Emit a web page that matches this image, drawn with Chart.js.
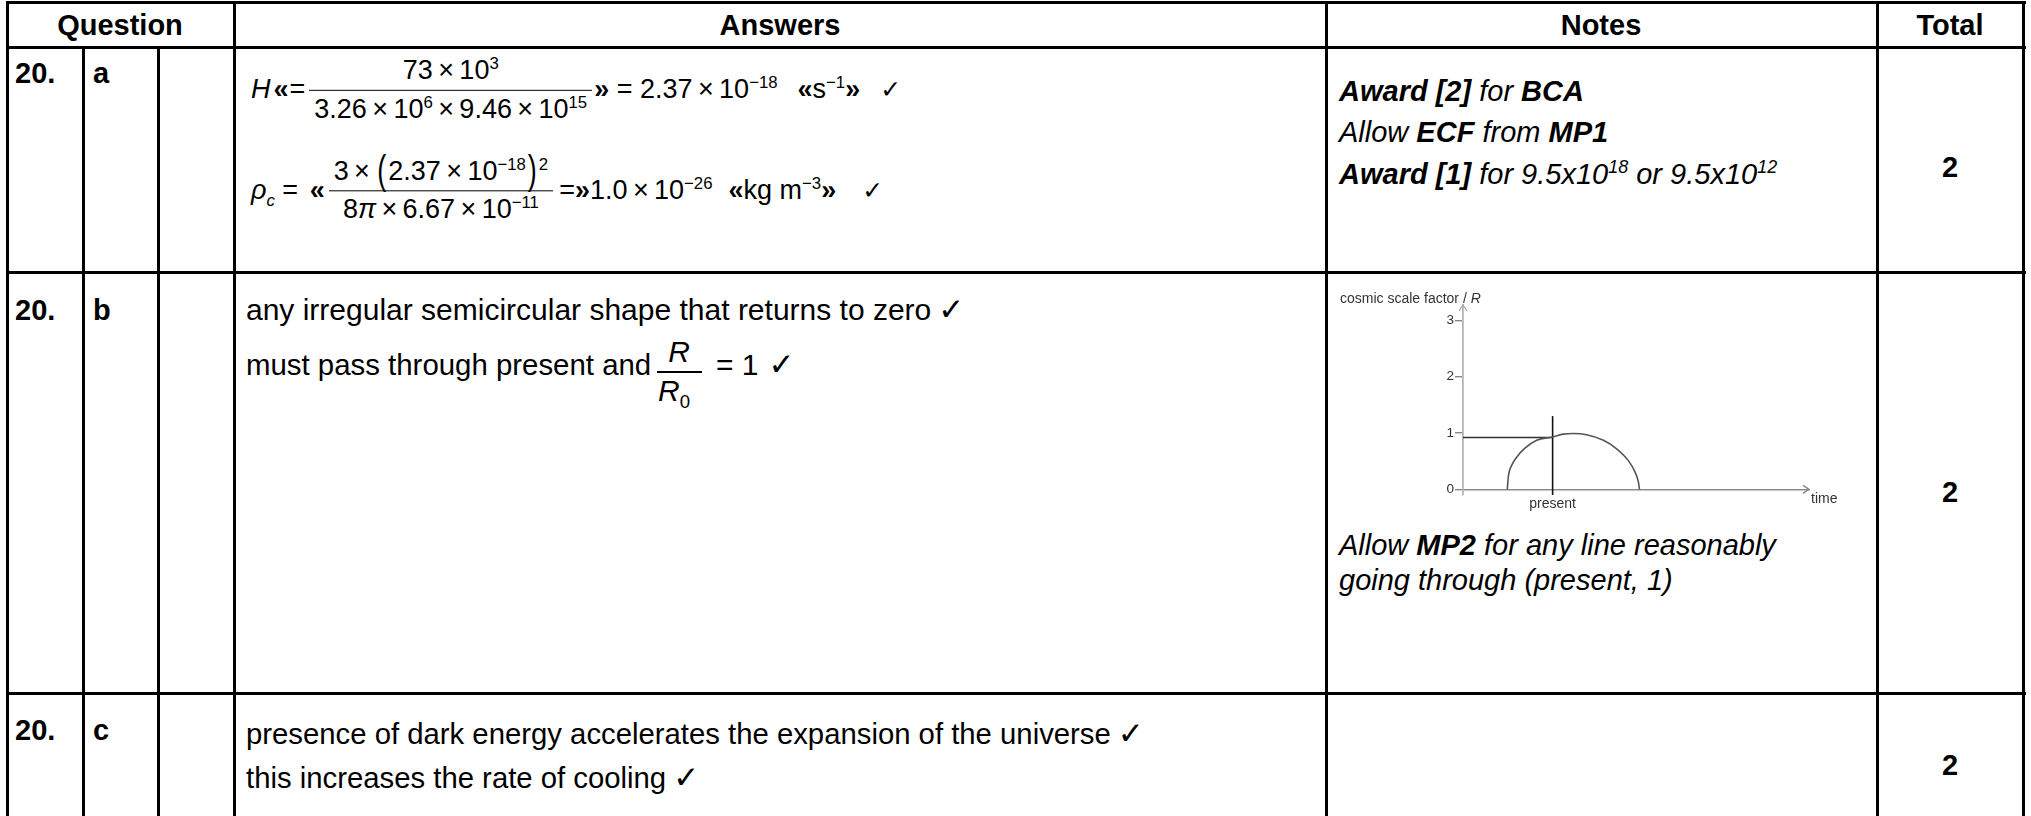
<!DOCTYPE html>
<html>
<head>
<meta charset="utf-8">
<script src="https://cdn.jsdelivr.net/npm/chart.js@4"></script>
<style>
    body { margin: 0; width: 2031px; height: 816px; overflow: hidden; position: relative; background: #fff; color: #000; font-family: "Liberation Sans", Arial, sans-serif; }
    .h, .v { position: absolute; background: #000; }
    .h { height: 3px; left: 6px; width: 2020px; }
    .v { width: 3px; }
    .t { position: absolute; font-size: 29px; line-height: 1; white-space: nowrap; transform: translateY(-50%); }
    .c { transform: translate(-50%, -50%); }
    .b { font-weight: bold; }
    .i { font-style: italic; }
    sup, sub { font-size: 62%; line-height: 0; }
    .ck { font-family: "DejaVu Sans", sans-serif; font-size: 31px; line-height: 0; margin-left: 7px; }
    .fl { position: absolute; height: 1.6px; background: #000; }

    /* formulas */
    .eq { position: absolute; display: flex; align-items: center; font-size: 27px; line-height: 1.1; white-space: nowrap; transform: translateY(-50%); }
    .eq q { quotes: none; font-weight: bold; }
    .fr { display: flex; flex-direction: column; align-items: center; margin: 0 2px 0 4px; }
    .nu { align-self: stretch; text-align: center; padding: 0 5px 4px; border-bottom: 1.6px solid #000; }
    .de { padding: 4px 5px 0; }
    .x { margin: 0 0.2em; }
    .big { display: inline-block; transform: scaleY(1.5); margin: 0 2px; }
    .gap { display: inline-block; width: 20px; }
    .eq .ck { font-size: 25px; margin-left: 0; }
    #chartBox { position: absolute; left: 1330px; top: 280px; }
</style>
</head>
<body>

<!-- table rules -->
<div class="h" style="top:1px"></div>
<div class="h" style="top:46px"></div>
<div class="h" style="top:271px"></div>
<div class="h" style="top:692px"></div>
<div class="v" style="left:6px;top:1px;height:815px"></div>
<div class="v" style="left:82px;top:46px;height:770px"></div>
<div class="v" style="left:157px;top:46px;height:770px"></div>
<div class="v" style="left:233px;top:1px;height:815px"></div>
<div class="v" style="left:1325px;top:1px;height:815px"></div>
<div class="v" style="left:1876px;top:1px;height:815px"></div>
<div class="v" style="left:2022px;top:1px;height:815px"></div>

<!-- header -->
<div class="t b c" style="left:120px;top:25px">Question</div>
<div class="t b c" style="left:780px;top:25px">Answers</div>
<div class="t b c" style="left:1601px;top:25px">Notes</div>
<div class="t b c" style="left:1950px;top:25px">Total</div>

<!-- 20 a -->
<div class="t b" style="left:15px;top:73px">20.</div>
<div class="t b" style="left:93px;top:73px">a</div>

<div class="eq" style="left:251px;top:90px">
    <span><span class="i">H</span><q style="margin:0 1px 0 3px">«</q>=</span>
    <span class="fr">
        <span class="nu">73<span class="x">×</span>10<sup>3</sup></span>
        <span class="de">3.26<span class="x">×</span>10<sup>6</sup><span class="x">×</span>9.46<span class="x">×</span>10<sup>15</sup></span>
    </span>
    <span><q>»</q> = 2.37<span class="x">×</span>10<sup>−18</sup><span class="gap"></span><q>«</q>s<sup>−1</sup><q>»</q><span class="gap"></span><span class="ck">✓</span></span>
</div>

<div class="eq" style="left:251px;top:191px">
    <span><span class="i">ρ<sub>c</sub></span> = <q style="margin-left:4px">«</q></span>
    <span class="fr">
        <span class="nu" style="padding-bottom:3px">3<span class="x">×</span><span class="big">(</span>2.37<span class="x">×</span>10<sup>−18</sup><span class="big">)</span><sup>2</sup></span>
        <span class="de">8<span class="i">π</span><span class="x">×</span>6.67<span class="x">×</span>10<sup>−11</sup></span>
    </span>
    <span style="margin-left:4px">=<q>»</q>1.0<span class="x">×</span>10<sup>−26</sup><span class="gap" style="width:16px"></span><q>«</q>kg m<sup>−3</sup><q>»</q><span class="gap" style="width:26px"></span><span class="ck">✓</span></span>
</div>

<div class="t i" style="left:1339px;top:91px"><b>Award [2]</b> for <b>BCA</b></div>
<div class="t i" style="left:1339px;top:132px">Allow <b>ECF</b> from <b>MP1</b></div>
<div class="t i" style="left:1339px;top:174px"><b>Award [1]</b> for 9.5x10<sup>18</sup> or 9.5x10<sup>12</sup></div>
<div class="t b c" style="left:1950px;top:167px">2</div>

<!-- 20 b -->
<div class="t b" style="left:15px;top:310px">20.</div>
<div class="t b" style="left:93px;top:310px">b</div>
<div class="t" style="left:246px;top:310px;font-size:30px">any irregular semicircular shape that returns to zero<span class="ck">✓</span></div>
<div class="t" style="left:246px;top:365px;font-size:29.4px">must pass through present and</div>
<div class="t i c" style="left:679px;top:352px;font-size:30px">R</div>
<div class="fl" style="left:657px;top:371px;width:45px"></div>
<div class="t i c" style="left:674px;top:391px;font-size:30px">R<sub style="font-style:normal">0</sub></div>
<div class="t" style="left:716px;top:365px;font-size:30px">= 1<span class="ck" style="margin-left:10px">✓</span></div>

<div id="chartBox"><canvas id="scaleChart" width="540" height="240"></canvas></div>
<div class="t i" style="left:1339px;top:545px">Allow <b>MP2</b> for any line reasonably</div>
<div class="t i" style="left:1339px;top:580px">going through (present, 1)</div>
<div class="t b c" style="left:1950px;top:492px">2</div>

<!-- 20 c -->
<div class="t b" style="left:15px;top:730px">20.</div>
<div class="t b" style="left:93px;top:730px">c</div>
<div class="t" style="left:246px;top:734px;font-size:29.3px">presence of dark energy accelerates the expansion of the universe<span class="ck">✓</span></div>
<div class="t" style="left:246px;top:778px;font-size:29.3px">this increases the rate of cooling<span class="ck">✓</span></div>
<div class="t b c" style="left:1950px;top:765px">2</div>

<script>
// cosmic scale factor sketch (time in arbitrary units 0-100)
const curveTime = [12.8, 13.1, 14.1, 15.5, 17.9, 21.3, 25.9, 29.0, 31.9, 35.7, 40.6, 44.4, 47.8, 49.7, 50.7, 51.0];
const curveR    = [0, 0.22, 0.43, 0.57, 0.73, 0.87, 0.93, 0.98, 0.99, 0.97, 0.87, 0.72, 0.51, 0.31, 0.13, 0];
const presentTime = 25.9;
const presentSpan = [-0.1, 1.3];
const levelR = 0.92;
const yTicks = [0, 1, 2, 3];
const xTickLabels = ['present'];
const tRange = [0, 100];
const rRange = [-0.1, 3.27];

const FONT = '"Liberation Sans", Arial, sans-serif';

// arrow heads, axis caption and "time" label
const axisDecor = {
    id: 'axisDecor',
    afterDraw(chart) {
        const { ctx, scales: { x, y } } = chart;
        const x0 = x.getPixelForValue(tRange[0]);
        const xEnd = x.getPixelForValue(tRange[1]);
        const y0 = y.getPixelForValue(0);
        const yTop = y.getPixelForValue(rRange[1]);
        ctx.save();
        ctx.lineWidth = 1.3;
        ctx.strokeStyle = '#aaa';
        ctx.beginPath();
        ctx.moveTo(x0 - 4, yTop + 6); ctx.lineTo(x0, yTop); ctx.lineTo(x0 + 4, yTop + 6);
        ctx.stroke();
        ctx.strokeStyle = '#888';
        ctx.beginPath();
        ctx.moveTo(xEnd - 6, y0 - 4); ctx.lineTo(xEnd, y0); ctx.lineTo(xEnd - 6, y0 + 4);
        ctx.stroke();

        ctx.fillStyle = '#333';
        ctx.textBaseline = 'middle';
        ctx.font = '14px ' + FONT;
        const cap = 'cosmic scale factor / ';
        ctx.fillText(cap, 10, 19);
        const w = ctx.measureText(cap).width;
        ctx.font = 'italic 14px ' + FONT;
        ctx.fillText('R', 10 + w, 19);
        ctx.font = '14px ' + FONT;
        ctx.fillText('time', xEnd + 2, y0 + 10);
        ctx.restore();
    }
};

const pts = (xs, ys) => xs.map((v, i) => ({ x: v, y: ys[i] }));

new Chart(document.getElementById('scaleChart'), {
    type: 'scatter',
    data: {
        datasets: [
            {
                data: pts(curveTime, curveR),
                showLine: true,
                borderColor: '#555',
                borderWidth: 1.6,
                pointRadius: 0,
                cubicInterpolationMode: 'monotone'
            },
            {
                data: pts([presentTime, presentTime], presentSpan),
                showLine: true,
                borderColor: '#111',
                borderWidth: 1.6,
                pointRadius: 0
            },
            {
                data: pts([tRange[0], presentTime], [levelR, levelR]),
                showLine: true,
                borderColor: '#333',
                borderWidth: 1.4,
                pointRadius: 0
            }
        ]
    },
    options: {
        responsive: false,
        animation: false,
        devicePixelRatio: 1,
        layout: { padding: { left: 93, right: 61, top: 25, bottom: 25 } },
        plugins: { legend: { display: false }, tooltip: { enabled: false } },
        scales: {
            x: {
                type: 'linear',
                min: tRange[0],
                max: tRange[1],
                position: { y: 0 },
                afterFit: s => { s.height = 0; },
                afterBuildTicks: s => { s.ticks = [{ value: presentTime }]; },
                grid: { display: false, drawTicks: false },
                border: { color: '#8c8c8c', width: 1.6 },
                ticks: {
                    callback: () => xTickLabels[0],
                    color: '#333',
                    font: { size: 14, family: FONT },
                    padding: 6,
                    maxRotation: 0,
                    autoSkip: false
                }
            },
            y: {
                type: 'linear',
                min: rRange[0],
                max: rRange[1],
                afterFit: s => { s.width = 40; },
                afterBuildTicks: s => { s.ticks = yTicks.map(v => ({ value: v })); },
                grid: { drawOnChartArea: false, tickLength: 8, color: '#888', lineWidth: 1.4 },
                border: { color: '#b5b5b5', width: 1.8 },
                ticks: { color: '#333', font: { size: 13.5, family: FONT }, padding: 1 }
            }
        }
    },
    plugins: [axisDecor]
});
</script>
</body>
</html>
